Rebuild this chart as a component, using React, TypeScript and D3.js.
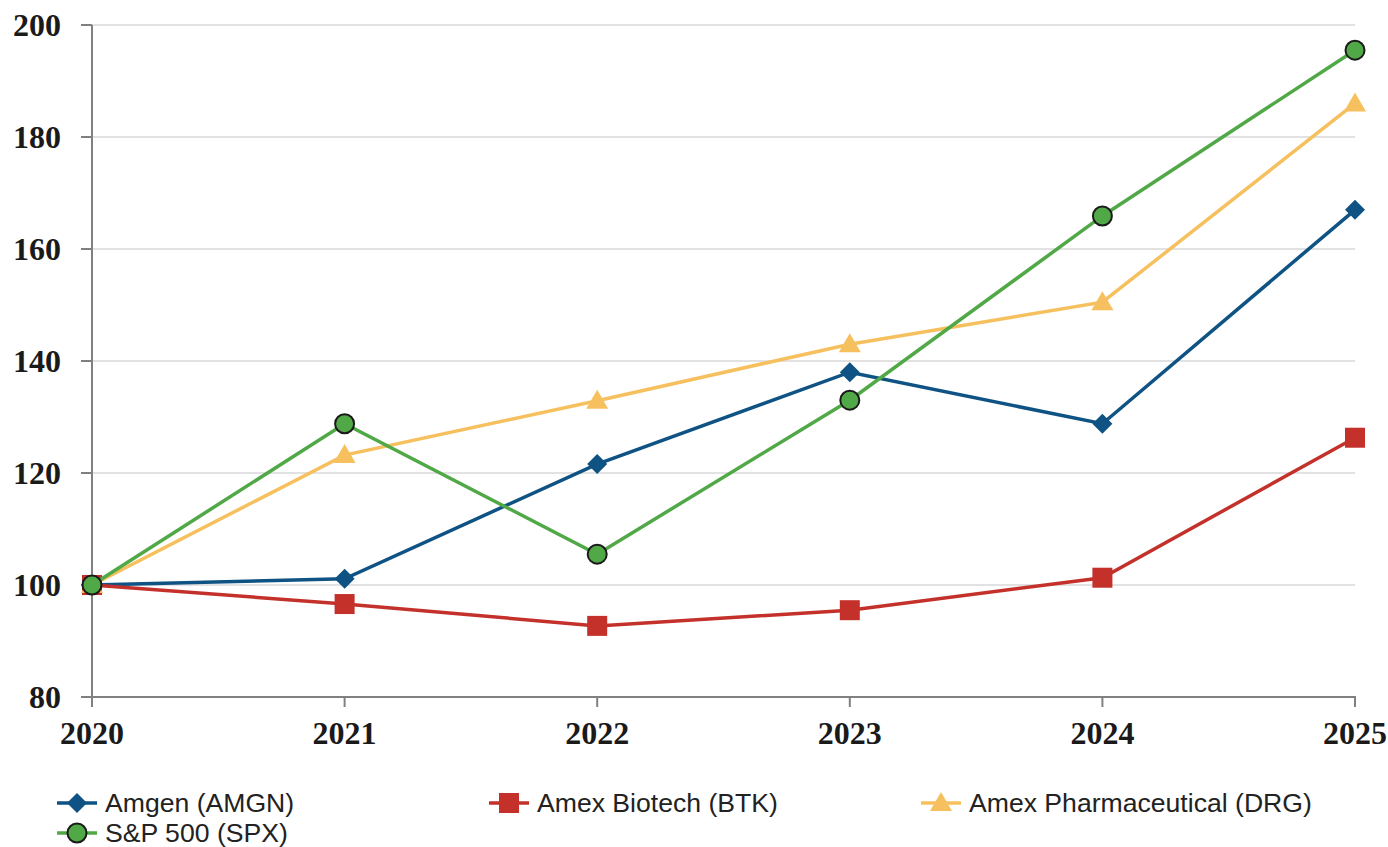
import React from "react";
import * as d3 from "d3";

const years = [2020, 2021, 2022, 2023, 2024, 2025];
const amgn = [100, 101.1, 121.6, 138.0, 128.8, 167.0];
const btk = [100, 96.6, 92.7, 95.5, 101.3, 126.3];
const drg = [100, 123.2, 132.9, 143.0, 150.5, 186.0];
const spx = [100, 128.8, 105.5, 133.0, 165.9, 195.5];
const yTicks = [80, 100, 120, 140, 160, 180, 200];

const seriesNames = ["Amgen (AMGN)", "Amex Biotech (BTK)", "Amex Pharmaceutical (DRG)", "S&P 500 (SPX)"];
const seriesColors = ["#0f5384", "#c4312b", "#f6c05e", "#50a847"];
const seriesShapes = ["diamond", "square", "triangle", "circle"];
const seriesValues = [amgn, btk, drg, spx];

function Marker({ shape, color, x, y }: { shape: string; color: string; x: number; y: number }) {
  if (shape === "diamond") {
    const s = 10;
    return <path d={`M${x},${y - s}L${x + s},${y}L${x},${y + s}L${x - s},${y}Z`} fill={color} />;
  }
  if (shape === "square") {
    return <rect x={x - 10} y={y - 10} width={20} height={20} fill={color} />;
  }
  if (shape === "triangle") {
    return <path d={`M${x},${y - 11}L${x + 11},${y + 8}L${x - 11},${y + 8}Z`} fill={color} />;
  }
  return <circle cx={x} cy={y} r={9.5} fill={color} stroke="#1a1a1a" strokeWidth={2} />;
}

export default function App() {
  const W = 1388, H = 847;
  const x = d3.scaleLinear().domain([2020, 2025]).range([92, 1355]);
  const y = d3.scaleLinear().domain([80, 200]).range([697, 25]);
  const line = d3.line<number>().x((_, i) => x(years[i])).y((v) => y(v));

  return (
    <svg width={W} height={H} style={{ position: "absolute", left: 0, top: 0 }}>
      <rect width={W} height={H} fill="#fff" />
      {yTicks.filter((t) => t !== 80).map((t) => (
        <line key={t} x1={92} x2={1355} y1={y(t)} y2={y(t)} stroke="#d9d9d9" strokeWidth={1.5} />
      ))}
      <line x1={92} x2={92} y1={y(200)} y2={707} stroke="#808080" strokeWidth={2} />
      <line x1={81} x2={1356} y1={697} y2={697} stroke="#808080" strokeWidth={2} />
      {yTicks.map((t) => (
        <line key={t} x1={81} x2={92} y1={y(t)} y2={y(t)} stroke="#808080" strokeWidth={2} />
      ))}
      {years.map((yr) => (
        <line key={yr} x1={x(yr)} x2={x(yr)} y1={697} y2={707} stroke="#808080" strokeWidth={2} />
      ))}
      {yTicks.map((t) => (
        <text key={t} x={61} y={y(t) + 11} textAnchor="end" fontFamily="Liberation Serif" fontWeight="bold" fontSize={32} fill="#1a1a1a">{t}</text>
      ))}
      {years.map((yr) => (
        <text key={yr} x={x(yr)} y={744} textAnchor="middle" fontFamily="Liberation Serif" fontWeight="bold" fontSize={32} fill="#1a1a1a">{yr}</text>
      ))}
      {seriesValues.map((vals, si) => (
        <g key={si}>
          <path d={line(vals) || ""} fill="none" stroke={seriesColors[si]} strokeWidth={3.5} />
          {vals.map((v, i) => (
            <Marker key={i} shape={seriesShapes[si]} color={seriesColors[si]} x={x(years[i])} y={y(v)} />
          ))}
        </g>
      ))}
      {seriesNames.map((name, si) => {
        const col = si % 3, row = Math.floor(si / 3);
        const lx = 57 + col * 432;
        const ly = 803 + row * 30;
        return (
          <g key={name}>
            <line x1={lx} x2={lx + 40} y1={ly} y2={ly} stroke={seriesColors[si]} strokeWidth={3.5} />
            <Marker shape={seriesShapes[si]} color={seriesColors[si]} x={lx + 20} y={ly} />
            <text x={lx + 48} y={ly + 9} fontFamily="Liberation Sans" fontSize={26.6} fill="#222">{name}</text>
          </g>
        );
      })}
    </svg>
  );
}
